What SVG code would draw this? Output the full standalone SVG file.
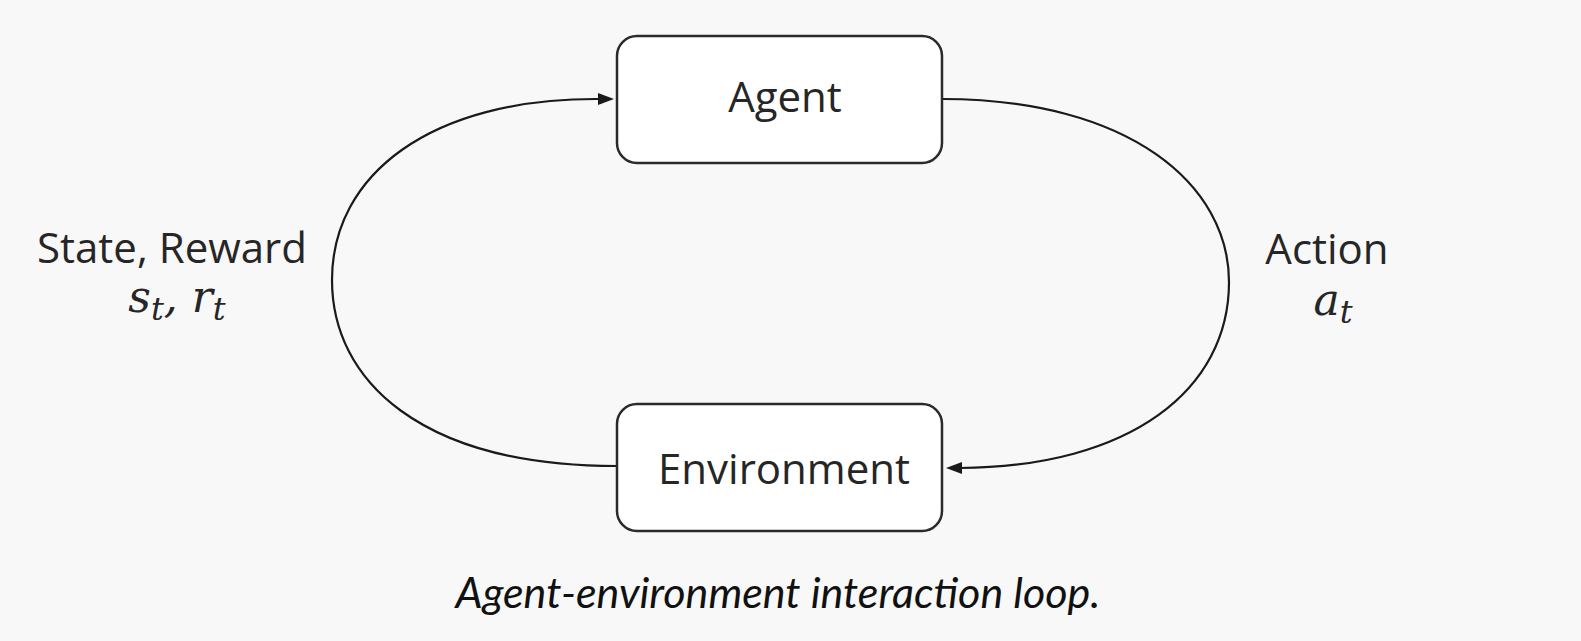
<svg xmlns="http://www.w3.org/2000/svg" width="1581" height="641" viewBox="0 0 1581 641">
<defs>
<style>
.box{fill:#ffffff;stroke:#2a2a2a;stroke-width:2.5}
.lbl{font-family:"Open Sans","Liberation Sans",sans-serif;font-size:42px;fill:#262626;text-anchor:middle}
.math{font-family:"DejaVu Serif","Liberation Serif",serif;font-style:italic;font-size:44px;fill:#262626;text-anchor:middle}
.sub{font-size:32px}
.conn{fill:none;stroke:#1a1a1a;stroke-width:2.2}
.cap{font-family:Lato,"Open Sans",sans-serif;font-style:italic;font-size:43px;fill:#111;text-anchor:middle}
</style>
</defs>
<rect x="0" y="0" width="1581" height="641" fill="#f8f8f8"/>
<g id="connectors">
<path class="conn" d="M 617 466 C 420 466, 332 380, 332 280 C 332 175, 430 98, 599 99"/>
<path d="M 614 99 L 598 93 L 598 105 Z" fill="#1a1a1a"/>
<path class="conn" d="M 942 99 C 1130 99, 1229 185, 1229 282 C 1229 390, 1130 467, 960 468"/>
<path d="M 946 468 L 962 462 L 962 474 Z" fill="#1a1a1a"/>
</g>
<g id="agent">
<rect class="box" x="617" y="36" width="325" height="127" rx="20"/>
<text class="lbl" x="785" y="112">Agent</text>
</g>
<g id="environment">
<rect class="box" x="617" y="404" width="325" height="127" rx="20"/>
<text class="lbl" x="784" y="484">Environment</text>
</g>
<g id="label-state">
<text class="lbl" x="172" y="263">State, Reward</text>
<text class="math" x="177" y="312">s<tspan class="sub" dy="8">t</tspan><tspan dy="-8">, r</tspan><tspan class="sub" dy="8">t</tspan></text>
</g>
<g id="label-action">
<text class="lbl" x="1327" y="264">Action</text>
<text class="math" x="1333" y="315">a<tspan class="sub" dy="8">t</tspan></text>
</g>
<text class="cap" x="778" y="608">Agent-environment interaction loop.</text>
</svg>
